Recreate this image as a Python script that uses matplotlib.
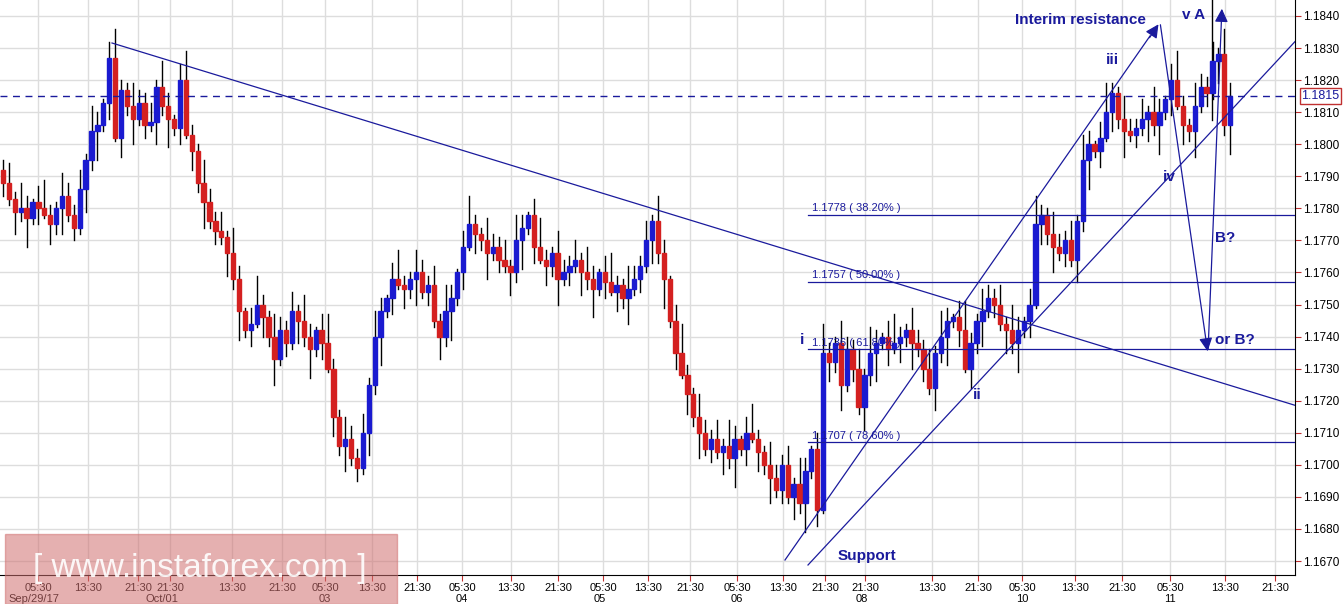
import matplotlib
matplotlib.use("Agg")
import matplotlib.pyplot as plt
from matplotlib.patches import Rectangle, FancyArrowPatch

plt.rcParams['font.family'] = ['Liberation Sans', 'DejaVu Sans']

closes_pips = [88,83,79,80,77,82,80,78,75,80,84,78,74,
               86,95,104,106,113,127,102,
               117,112,108,113,106,107,118,112,
               108,105,120,103,98,88,
               82,76,73,71,66,58,48,42,
               44,50,46,40,33,42,38,48,45,40,36,42,38,30,
               15,6,8,2,-1,10,25,
               40,48,52,58,56,
               55,58,60,54,56,45,40,48,52,
               60,68,75,72,
               70,66,68,64,62,60,70,74,78,
               68,64,62,66,58,60,62,64,60,58,55,60,57,54,56,52,55,58,62,70,
               76,66,58,
               45,35,28,22,15,
               10,5,8,4,6,2,
               8,5,10,8,4,0,
               -4,-8,0,-10,-6,-12,-2,5,-14,
               35,32,38,25,36,30,18,28,35,38,40,36,38,40,42,
               38,36,30,24,35,40,45,46,42,30,
               38,45,48,52,50,44,42,38,42,45,50,75,
               78,72,68,66,70,64,76,95,
               100,98,102,110,116,108,
               104,103,105,108,110,106,110,114,
               120,112,106,104,
               112,118,116,126,128,106,115]
first_open = 92
wick_up = [3,6,2,8,4,1,5,9,3,2,7,4]
wick_dn = [4,2,7,3,9,2,5,1,6,3,8,2]

fib_levels = [1.1778, 1.1757, 1.1736, 1.1707]
fib_labels = ["1.1778 ( 38.20% )", "1.1757 ( 50.00% )", "1.1736 ( 61.80% )", "1.1707 ( 78.60% )"]
current = 1.1815
yticks = [1.1670 + 0.001*k for k in range(18)]
xtick_px = [38,88,138,170,232,282,325,372,417,462,511,558,603,648,690,737,783,825,865,932,978,1022,1075,1122,1170,1225,1275]
xtick_lbl = ["05:30","13:30","21:30","21:30","13:30","21:30","05:30","13:30","21:30","05:30","13:30","21:30","05:30","13:30","21:30","05:30","13:30","21:30","21:30","13:30","21:30","05:30","13:30","21:30","05:30","13:30","21:30"]
date_px = [34,162,325,462,600,737,862,1022,1170]
date_lbl = ["Sep/29/17","Oct/01","03","04","05","06","08","10","11"]

PX = 5.9
def xi(px):
    return (px - 3) / PX
def yp(py):
    return 1.1840 - (py - 16) / 32060.0

fig = plt.figure(figsize=(13.43, 6.04), dpi=100)
ax = fig.add_axes([0, 29/604, 1295/1343, 1 - 29/604])
ax.set_xlim(xi(0), xi(1295))
ax.set_ylim(yp(575), yp(0))

blue = '#1a1ad0'; red = '#d42020'; navy = '#1a1a9c'
prev = first_open
for i, c in enumerate(closes_pips):
    o = prev
    hi = max(o, c) + wick_up[i % len(wick_up)]
    lo = min(o, c) - wick_dn[i % len(wick_dn)]
    col = blue if c >= o else red
    ax.plot([i, i], [1.17 + lo/1e4, 1.17 + hi/1e4], color='black', lw=1, zorder=3)
    h = abs(c - o) / 1e4
    if h < 0.00004:
        h = 0.00004
    ax.add_patch(Rectangle((i - 0.36, 1.17 + min(o, c)/1e4), 0.72, h, color=col, zorder=4))
    prev = c

for t in yticks:
    ax.axhline(t, color='#dddddd', lw=1, zorder=0)
for p in xtick_px:
    ax.axvline(xi(p), color='#dddddd', lw=1, zorder=0)

ax.plot([xi(112), xi(1343)], [yp(43), yp(420)], color=navy, lw=0.9, zorder=5)
ax.plot([xi(808), xi(1343)], [yp(565), yp(-10)], color=navy, lw=0.9, zorder=5)
ax.plot([xi(785), xi(1150)], [yp(560), yp(36)], color=navy, lw=0.9, zorder=5)
for a, b in [((xi(1148), yp(40)), (xi(1160), yp(22))),
             ((xi(1160), yp(22)), (xi(1208), yp(354))),
             ((xi(1208), yp(352)), (xi(1222), yp(6)))]:
    ax.add_patch(FancyArrowPatch(a, b, arrowstyle='-|>', mutation_scale=20, color=navy, lw=0.9, zorder=6))
ax.plot([xi(1212), xi(1212)], [yp(-5), yp(120)], color='black', lw=1, zorder=3)

for lv, lb in zip(fib_levels, fib_labels):
    ax.plot([xi(808), xi(1295)], [lv, lv], color=navy, lw=0.9, zorder=5)
    ax.text(xi(812), lv + 0.00012, lb, color=navy, fontsize=8, zorder=6)

ax.axhline(current, color=navy, lw=1, ls=(0, (5, 4)), zorder=5)

tk = dict(color=navy, fontsize=11, fontweight='bold', zorder=7)
ax.text(xi(1015), yp(20), "Interim resistance", va='center', **tk)
ax.text(xi(1182), yp(15), "v A", va='center', **tk)
ax.text(xi(1106), yp(60), "iii", va='center', **tk)
ax.text(xi(1163), yp(177), "iv", va='center', **tk)
ax.text(xi(1215), yp(238), "B?", va='center', **tk)
ax.text(xi(1215), yp(340), "or B?", va='center', **tk)
ax.text(xi(800), yp(340), "i", va='center', **tk)
ax.text(xi(973), yp(395), "ii", va='center', **tk)
ax.text(xi(838), yp(556), "Support", va='center', **tk)

for s in ['top', 'left']:
    ax.spines[s].set_visible(False)
ax.yaxis.tick_right()
ax.set_yticks(yticks)
ax.set_yticklabels([f"{t:.4f}" for t in yticks], fontsize=8.5)
ax.tick_params(axis='y', length=4, color='#c03030', pad=2)
ax.set_xticks([xi(p) for p in xtick_px])
ax.set_xticklabels(xtick_lbl, fontsize=8)
ax.tick_params(axis='x', length=4, color='#c03030', pad=2)
for p, l in zip(date_px, date_lbl):
    fig.text(p/1343, 0, l, fontsize=8, ha='center', va='bottom')

ax.text(1.005, current, "1.1815", transform=ax.get_yaxis_transform(), fontsize=9, va='center', color=navy,
        bbox=dict(boxstyle='square,pad=0.15', fc='white', ec='#c03030'))

fig.patches.append(Rectangle((5/1343, 0), 392/1343, 70/604, transform=fig.transFigure,
                             color='#d07070', alpha=0.55, zorder=10))
fig.text(200/1343, 36/604, "[ www.instaforex.com ]", color='white', fontsize=24, ha='center', va='center', zorder=11, alpha=0.9)

fig.savefig("out.png", dpi=100)
